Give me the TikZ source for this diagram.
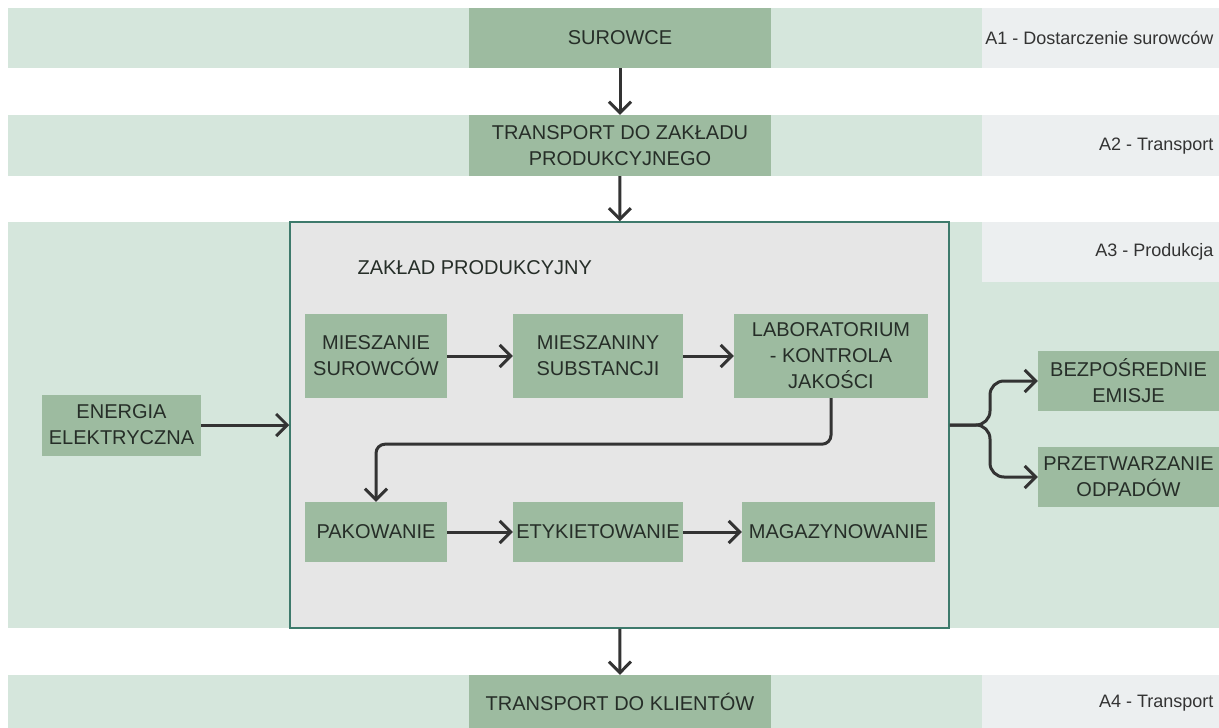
\documentclass[tikz,border=0pt]{standalone}
\usepackage{fontspec}
\setmainfont{Liberation Sans}
\usetikzlibrary{arrows.meta}

\definecolor{bandgreen}{HTML}{D5E6DC}
\definecolor{stagegreen}{HTML}{9DBBA0}
\definecolor{panelgray}{HTML}{ECEFF0}
\definecolor{plantgray}{HTML}{E6E6E6}
\definecolor{plantedge}{HTML}{3E7A6C}
\definecolor{inkdark}{HTML}{333333}
\definecolor{textdark}{HTML}{262E28}

\begin{document}
\begin{tikzpicture}[x=1pt, y=-1pt,
    stage/.style={rectangle, fill=stagegreen, inner sep=0pt, align=center, text=textdark, font=\fontsize{20}{26}\selectfont},
    plant/.style={rectangle, fill=plantgray, draw=plantedge, line width=1.5pt, inner sep=0pt},
    phase/.style={anchor=east, text=inkdark, font=\fontsize{18}{22}\selectfont},
    arrow/.style={-{Straight Barb[length=11pt,width=22pt]}, line width=3pt, draw=inkdark},
]
    \useasboundingbox[fill=white] (0,0) rectangle (1219,728);

    % Bands
    \fill[bandgreen] (8,8) rectangle (1219,68);
    \fill[panelgray] (982,8) rectangle (1219,68);
    \fill[bandgreen] (8,115) rectangle (1219,176);
    \fill[panelgray] (982,115) rectangle (1219,176);
    \fill[bandgreen] (8,222) rectangle (1219,628);
    \fill[panelgray] (982,222) rectangle (1219,282);
    \fill[bandgreen] (8,675) rectangle (1219,728);
    \fill[panelgray] (982,675) rectangle (1219,728);

    % Phase labels
    \node[phase] (a1) at (1217,38) {A1 - Dostarczenie surowców};
    \node[phase] (a2) at (1217,146) {A2 - Transport};
    \node[phase] (a3) at (1217,252) {A3 - Produkcja};
    \node[phase] (a4) at (1217,703) {A4 - Transport};

    % Main chain
    \node[stage, minimum width=302pt, minimum height=60pt] (surowce) at (620,38) {SUROWCE};
    \node[stage, minimum width=302pt, minimum height=61pt] (transport) at (620,145.5) {TRANSPORT DO ZAKŁADU\\PRODUKCYJNEGO};
    \node[plant, minimum width=659pt, minimum height=406pt] (zaklad) at (619.5,425) {};
    \node[stage, minimum width=302pt, minimum height=53pt] (klienci) at (620,701.5) {TRANSPORT DO KLIENTÓW};

    % Inside the plant
    \node[anchor=west, text=textdark, font=\fontsize{20}{26}\selectfont] (zakladTitle) at (354,268) {ZAKŁAD PRODUKCYJNY};
    \node[stage, minimum width=142pt, minimum height=84pt] (mieszanie) at (376,356) {MIESZANIE\\SUROWCÓW};
    \node[stage, minimum width=170pt, minimum height=84pt] (mieszaniny) at (598,356) {MIESZANINY\\SUBSTANCJI};
    \node[stage, minimum width=194pt, minimum height=84pt] (lab) at (831,356) {LABORATORIUM\\- KONTROLA\\JAKOŚCI};
    \node[stage, minimum width=142pt, minimum height=60pt] (pakowanie) at (376,532) {PAKOWANIE};
    \node[stage, minimum width=170pt, minimum height=60pt] (etykiety) at (598,532) {ETYKIETOWANIE};
    \node[stage, minimum width=193pt, minimum height=60pt] (magazyn) at (838.5,532) {MAGAZYNOWANIE};

    % Inputs and outputs
    \node[stage, minimum width=159pt, minimum height=61pt] (energia) at (121.5,425) {ENERGIA\\ELEKTRYCZNA};
    \node[stage, minimum width=181pt, minimum height=60pt] (emisje) at (1128.5,381) {BEZPOŚREDNIE\\EMISJE};
    \node[stage, minimum width=181pt, minimum height=60pt] (odpady) at (1128.5,477) {PRZETWARZANIE\\ODPADÓW};

    % Flow
    \draw[arrow] (surowce) -- (transport);
    \draw[arrow] (transport) -- (zaklad);
    \draw[arrow] (zaklad) -- (klienci);
    \draw[arrow] (energia) -- (zaklad);
    \draw[arrow] (mieszanie) -- (mieszaniny);
    \draw[arrow] (mieszaniny) -- (lab);
    \draw[arrow, rounded corners=9pt] (lab.south) -- ++(0,46) -| (pakowanie.north);
    \draw[arrow] (pakowanie) -- (etykiety);
    \draw[arrow] (etykiety) -- (magazyn);
    \draw[arrow, rounded corners=14pt] (zaklad.east) -- (990,425) |- (emisje.west);
    \draw[arrow, rounded corners=14pt] (zaklad.east) -- (990,425) |- (odpady.west);
\end{tikzpicture}
\end{document}
